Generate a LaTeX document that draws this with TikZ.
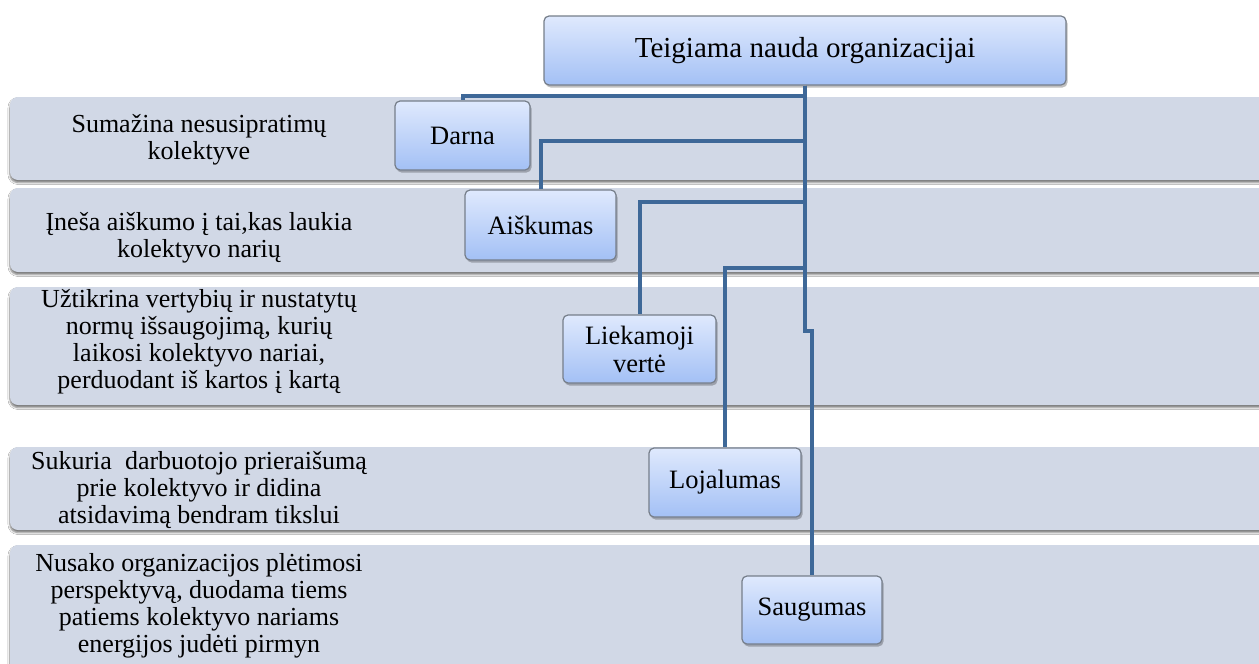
\documentclass[tikz,border=0pt]{standalone}
\usepackage{fontspec}
\setmainfont{Liberation Serif}
\usetikzlibrary{shadows,shadows.blur}

\definecolor{bandfill}{RGB}{209,216,230}
\definecolor{boxtop}{RGB}{223,233,253}
\definecolor{boxbot}{RGB}{163,192,245}
\definecolor{boxedge}{RGB}{118,126,138}
\definecolor{linkblue}{RGB}{62,104,152}

\tikzset{
  band/.style={fill=bandfill, rounded corners=8pt,
    blur shadow={shadow xshift=0pt, shadow yshift=-2.5pt,
      shadow blur radius=2pt, shadow opacity=55}},
  bandtext/.style={align=center, inner sep=0pt,
    font=\fontsize{26}{27}\selectfont},
  card/.style={rectangle, rounded corners=5pt, top color=boxtop,
    bottom color=boxbot, draw=boxedge, line width=1.2pt, inner sep=0pt,
    align=center, font=\fontsize{26.5}{28}\selectfont,
    drop shadow={shadow xshift=1.5pt, shadow yshift=-2.5pt,
      fill=black, opacity=0.25}},
  conn/.style={draw=linkblue, line width=4pt},
}

\begin{document}
\begin{tikzpicture}[x=1pt, y=-1pt]
  \path[clip] (0,0) rectangle (1259,664);
  \fill[white] (0,0) rectangle (1259,664);

  % horizontal bands
  \path[band] (10,97)  rectangle (1280,180);
  \path[band] (10,188) rectangle (1280,272);
  \path[band] (10,287) rectangle (1280,405);
  \path[band] (10,447) rectangle (1280,530);
  \path[band] (10,545) rectangle (1280,700);

  % band descriptions
  \node[bandtext] (t1) at (199,140) {Sumažina nesusipratimų\\kolektyve};
  \node[bandtext] (t2) at (199,238) {Įneša aiškumo į tai,kas laukia\\kolektyvo narių};
  \node[bandtext] (t3) at (199,342) {Užtikrina vertybių ir nustatytų\\normų išsaugojimą, kurių\\laikosi kolektyvo nariai,\\perduodant iš kartos į kartą};
  \node[bandtext] (t4) at (199,490) {Sukuria\ \ darbuotojo prieraišumą\\prie kolektyvo ir didina\\atsidavimą bendram tikslui};
  \node[bandtext] (t5) at (199,606) {Nusako organizacijos plėtimosi\\perspektyvą, duodama tiems\\patiems kolektyvo nariams\\energijos judėti pirmyn};

  % hierarchy boxes
  \node[card, minimum width=522pt, minimum height=69pt,
        font=\fontsize{29}{30}\selectfont] (top) at (805,50.5) {Teigiama nauda organizacijai};
  \node[card, minimum width=135pt, minimum height=69pt] (darna) at (462.5,135.5) {Darna};
  \node[card, minimum width=151pt, minimum height=70pt] (aisk) at (540.5,225) {Aiškumas};
  \node[card, minimum width=153pt, minimum height=68pt] (liek) at (639.5,349) {Liekamoji\\vertė};
  \node[card, minimum width=152pt, minimum height=69pt] (loja) at (725,482.5) {Lojalumas};
  \node[card, minimum width=140pt, minimum height=68pt] (saug) at (812,610) {Saugumas};

  % connectors
  \draw[conn] (top.south) -- ++(0,10)  -| (darna.north);
  \draw[conn] (top.south) -- ++(0,55)  -| (aisk.north);
  \draw[conn] (top.south) -- ++(0,116) -| (liek.north);
  \draw[conn] (top.south) -- ++(0,182) -| (loja.north);
  \draw[conn] (top.south) -- ++(0,245) -| (saug.north);
\end{tikzpicture}
\end{document}
